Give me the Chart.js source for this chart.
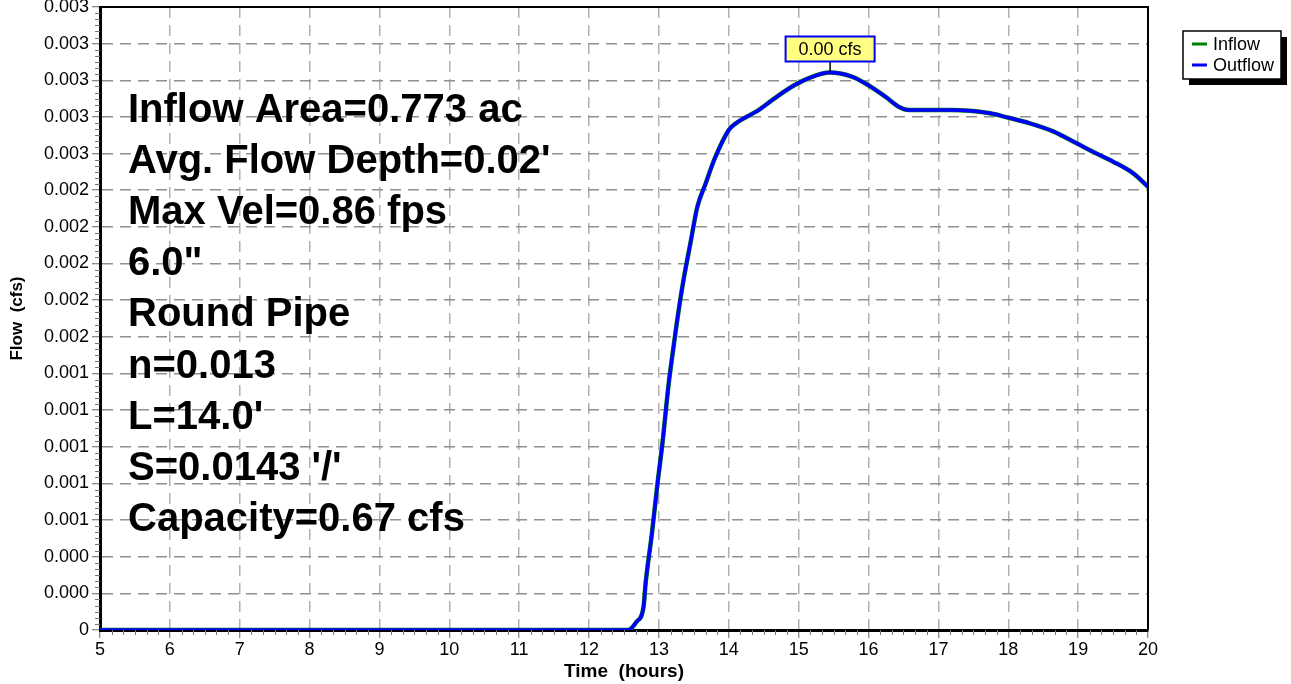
<!DOCTYPE html>
<html>
<head>
<meta charset="utf-8">
<script src="https://cdn.jsdelivr.net/npm/chart.js@4.4.1/dist/chart.umd.min.js"></script>
<style>
  html, body { margin: 0; padding: 0; background: #fff; }
  #wrap { width: 1291px; height: 684px; }
</style>
</head>
<body>
<div id="wrap"><canvas id="flowChart" width="1291" height="684"></canvas></div>
<script>
const hours = [5.0, 12.5, 12.56, 12.68, 12.78, 12.81, 12.90, 12.98, 13.05, 13.14, 13.19, 13.29, 13.36,
    13.45, 13.55, 13.67, 13.79, 14.0, 14.1, 14.43, 14.62, 14.9, 15.14, 15.45, 15.76, 15.95,
    16.24, 16.43, 16.58, 17.17, 17.74, 17.98, 18.31, 18.65, 18.98, 19.21, 19.5, 19.79, 20.0];
const inflow = [0, 0, 0, 0.000045, 0.000127, 0.000257, 0.000528, 0.000801, 0.001019, 0.001346, 0.001492, 0.001764, 0.001928,
    0.002110, 0.002310, 0.002438, 0.002565, 0.002729, 0.002765, 0.002838, 0.002892, 0.002965, 0.003011, 0.003042, 0.003020, 0.002984,
    0.002911, 0.002856, 0.002838, 0.002838, 0.002820, 0.002798, 0.002765, 0.002720, 0.002656, 0.002610, 0.002556, 0.002492, 0.002419];
const outflow = [0, 0, 0, 0.000045, 0.000127, 0.000257, 0.000528, 0.000801, 0.001019, 0.001346, 0.001492, 0.001764, 0.001928,
    0.002110, 0.002310, 0.002438, 0.002565, 0.002729, 0.002765, 0.002838, 0.002892, 0.002965, 0.003011, 0.003042, 0.003020, 0.002984,
    0.002911, 0.002856, 0.002838, 0.002838, 0.002820, 0.002798, 0.002765, 0.002720, 0.002656, 0.002610, 0.002556, 0.002492, 0.002419];
const xTicks = [5, 6, 7, 8, 9, 10, 11, 12, 13, 14, 15, 16, 17, 18, 19, 20];
const yTicks = [0, 0.0002, 0.0004, 0.0006, 0.0008, 0.0010, 0.0012, 0.0014, 0.0016, 0.0018,
    0.0020, 0.0022, 0.0024, 0.0026, 0.0028, 0.0030, 0.0032, 0.0034];
const notes = ['Inflow Area=0.773 ac', "Avg. Flow Depth=0.02'", 'Max Vel=0.86 fps', '6.0"', 'Round Pipe',
    'n=0.013', "L=14.0'", "S=0.0143 '/'", 'Capacity=0.67 cfs'];

const FONT = "'Liberation Sans', Arial, sans-serif";

document.addEventListener('DOMContentLoaded', () => {
    const ctx = document.getElementById('flowChart').getContext('2d');

    const toPoints = arr => hours.map((h, i) => ({ x: h, y: arr[i] }));

    // minor ticks, frame, notes, peak callout, legend
    const decor = {
        id: 'decor',
        beforeDatasetsDraw(chart) {
            const c = chart.ctx;
            const area = chart.chartArea;
            c.save();
            c.fillStyle = '#000';
            c.font = 'bold 40px ' + FONT;
            c.textBaseline = 'alphabetic';
            notes.forEach((t, i) => c.fillText(t, area.left + 28, 122 + i * 51.1));
            c.restore();
        },
        afterDraw(chart) {
            const c = chart.ctx;
            const area = chart.chartArea;
            const xs = chart.scales.x, ys = chart.scales.y;
            c.save();
            // minor ticks
            c.strokeStyle = '#777';
            c.lineWidth = 1;
            c.beginPath();
            for (let h = 5; h < 20; h++) {
                for (let k = 1; k < 6; k++) {
                    const px = Math.round(xs.getPixelForValue(h + k / 6)) + 0.5;
                    c.moveTo(px, area.bottom); c.lineTo(px, area.bottom + 5);
                }
            }
            for (let j = 0; j < yTicks.length - 1; j++) {
                for (let k = 1; k < 6; k++) {
                    const py = Math.round(ys.getPixelForValue(yTicks[j] + 0.0002 * k / 6)) + 0.5;
                    c.moveTo(area.left - 5, py); c.lineTo(area.left, py);
                }
            }
            c.stroke();
            // top and right frame
            c.strokeStyle = '#000';
            c.lineWidth = 2;
            c.beginPath();
            c.moveTo(area.left, area.top); c.lineTo(area.right, area.top); c.lineTo(area.right, area.bottom);
            c.stroke();

            // peak callout
            let pi = 0;
            outflow.forEach((v, i) => { if (v > outflow[pi]) pi = i; });
            const px = xs.getPixelForValue(hours[pi]);
            const py = ys.getPixelForValue(outflow[pi]);
            const label = outflow[pi].toFixed(2) + ' cfs';
            c.font = '18px ' + FONT;
            const bw = c.measureText(label).width + 26, bh = 25;
            const bx = px - bw / 2, by = 36.5;
            c.strokeStyle = '#000'; c.lineWidth = 1.5;
            c.beginPath(); c.moveTo(px, by + bh); c.lineTo(px, py - 1); c.stroke();
            c.fillStyle = '#ffff80'; c.fillRect(bx, by, bw, bh);
            c.strokeStyle = '#0000ff'; c.lineWidth = 2; c.strokeRect(bx, by, bw, bh);
            c.fillStyle = '#000'; c.textAlign = 'center'; c.textBaseline = 'middle';
            c.fillText(label, px, by + bh / 2 + 1);

            // legend with drop shadow
            const lx = 1183, ly = 31, lw = 98, lh = 48;
            c.fillStyle = '#000'; c.fillRect(lx + 6, ly + 6, lw, lh);
            c.fillStyle = '#fff'; c.fillRect(lx, ly, lw, lh);
            c.strokeStyle = '#000'; c.lineWidth = 1.5; c.strokeRect(lx, ly, lw, lh);
            c.textAlign = 'left'; c.font = '18px ' + FONT;
            const entries = chart.data.datasets.slice().sort((a, b) => b.order - a.order);
            entries.forEach((ds, i) => {
                const ey = ly + 13 + i * 21;
                c.strokeStyle = ds.borderColor; c.lineWidth = 3;
                c.beginPath(); c.moveTo(lx + 9, ey); c.lineTo(lx + 24, ey); c.stroke();
                c.fillStyle = '#000'; c.fillText(ds.label, lx + 30, ey + 1);
            });
            c.restore();
        }
    };

    new Chart(ctx, {
        type: 'line',
        data: {
            datasets: [
                { label: 'Inflow', data: toPoints(inflow), borderColor: '#008000', borderWidth: 4.5, order: 2 },
                { label: 'Outflow', data: toPoints(outflow), borderColor: '#0000ff', borderWidth: 3.5, order: 1 }
            ]
        },
        options: {
            responsive: false,
            animation: false,
            devicePixelRatio: 1,
            layout: { padding: { top: 7, right: 143, bottom: 0, left: 0 } },
            elements: { point: { radius: 0 }, line: { cubicInterpolationMode: 'monotone' } },
            plugins: { legend: { display: false }, tooltip: { enabled: false } },
            scales: {
                x: {
                    type: 'linear', min: 5, max: 20,
                    afterBuildTicks: s => { s.ticks = xTicks.map(v => ({ value: v })); },
                    afterFit: s => { s.height = 54; s.paddingLeft = 0; s.paddingRight = 0; },
                    ticks: { color: '#000', font: { family: FONT, size: 18 }, padding: 1, maxRotation: 0, autoSkip: false },
                    grid: { color: '#b0b0b0', lineWidth: 1.5, tickLength: 8, tickColor: '#666', tickWidth: 1, tickBorderDash: [] },
                    border: { color: '#000', width: 3, dash: [11, 7] },
                    title: { display: true, text: 'Time  (hours)', color: '#000', font: { family: FONT, size: 19, weight: 'bold' }, padding: { top: 0, bottom: 1 } }
                },
                y: {
                    type: 'linear', min: 0, max: 0.0034,
                    afterBuildTicks: s => { s.ticks = yTicks.map(v => ({ value: v })); },
                    afterFit: s => { s.width = 100; s.paddingTop = 0; s.paddingBottom = 0; },
                    ticks: {
                        color: '#000', font: { family: FONT, size: 18 }, padding: 3,
                        callback: v => (v === 0 ? '0' : v.toFixed(3))
                    },
                    grid: { color: '#909090', lineWidth: 1.5, tickLength: 8, tickColor: '#666', tickWidth: 1, tickBorderDash: [] },
                    border: { color: '#000', width: 3, dash: [11, 7] },
                    title: { display: true, text: 'Flow  (cfs)', color: '#000', font: { family: FONT, size: 17, weight: 'bold' }, padding: { top: 7, bottom: 0 } }
                }
            }
        },
        plugins: [decor]
    });
});
</script>
</body>
</html>
